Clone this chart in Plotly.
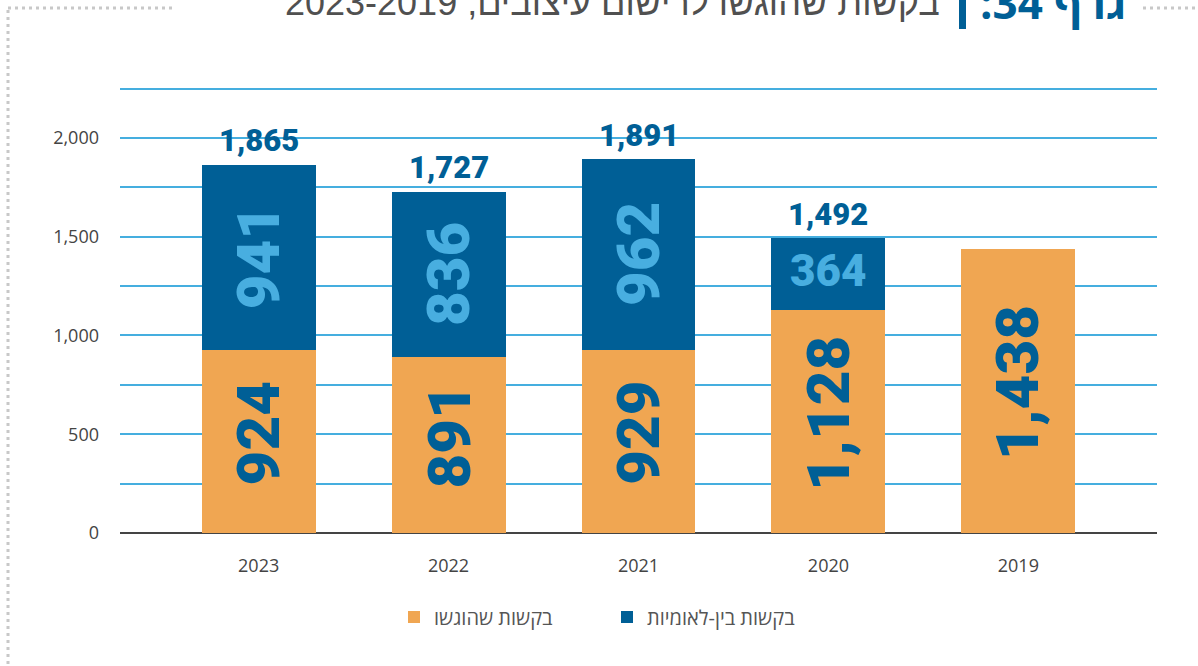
import plotly.graph_objects as go

# Design applications filed, by year
years = ["2023", "2022", "2021", "2020", "2019"]
filed = [924, 891, 929, 1128, 1438]            # בקשות שהוגשו
international = [941, 836, 962, 364, None]     # בקשות בין-לאומיות
totals = [1865, 1727, 1891, 1492, None]

y_ticks = [0, 500, 1000, 1500, 2000]
y_tick_text = ["0", "500", "1,000", "1,500", "2,000"]

ORANGE = "#F0A652"
BLUE = "#005F96"
LIGHT_BLUE = "#48AEE0"
GRID = "#45AEDF"
TEXT_GRAY = "#444444"
NUM_FONT = "Roboto"

# plot-area geometry in pixels (used to place frame/title in paper units)
W, H = 1198, 666
M_L, M_R, M_T, M_B = 120, 41, 87, 133
PW, PH = W - M_L - M_R, H - M_T - M_B


def px_x(p):
    return (p - M_L) / PW


def px_y(p):
    return (H - M_B - p) / PH


fig = go.Figure()
fig.add_trace(go.Bar(
    x=years, y=filed, name="בקשות שהוגשו",
    marker=dict(color=ORANGE, line=dict(width=0)), width=0.6,
    hoverinfo="skip",
))
fig.add_trace(go.Bar(
    x=years, y=international, name="בקשות בין-לאומיות",
    marker=dict(color=BLUE, line=dict(width=0)), width=0.6,
    hoverinfo="skip",
))

annotations = []
for idx, (f, i, t) in enumerate(zip(filed, international, totals)):
    # value inside the orange segment
    annotations.append(dict(
        x=idx, y=f / 2, xref="x", yref="y", text=f"{f:,}", showarrow=False,
        textangle=-90, yshift=8,
        font=dict(family=NUM_FONT, size=60, color=BLUE, weight=900),
    ))
    if i:
        annotations.append(dict(
            x=idx, y=f + i / 2, xref="x", yref="y", text=f"{i:,}", showarrow=False,
            textangle=-90 if i > 500 else 0, yshift=0 if i > 500 else 3,
            font=dict(family=NUM_FONT, size=60 if i > 500 else 44,
                      color=LIGHT_BLUE, weight=900),
        ))
    if t:
        annotations.append(dict(
            x=idx, y=t, xref="x", yref="y", text=f"{t:,}", showarrow=False,
            yshift=24, yanchor="middle",
            font=dict(family=NUM_FONT, size=31, color=BLUE, weight=900),
        ))

# title (runs off the top edge of the page)
annotations.append(dict(
    x=px_x(1128), y=px_y(2), xref="paper", yref="paper", xanchor="right",
    yanchor="middle", showarrow=False, text="\u202Bגרף 34:\u202C",
    font=dict(family="Open Sans", size=44, color=BLUE, weight=700),
))
annotations.append(dict(
    x=px_x(942), y=px_y(3), xref="paper", yref="paper", xanchor="right",
    yanchor="middle", showarrow=False,
    text="\u202Bבקשות שהוגשו לרישום עיצובים, 2023-2019\u202C",
    font=dict(family="Liberation Sans", size=36, color="#505050"),
))

DOTS = dict(color="#c8c8c8", width=3, dash="3px,4px")
shapes = [
    # dotted frame
    dict(type="line", xref="paper", yref="paper", x0=px_x(8), x1=px_x(8),
         y0=px_y(10), y1=px_y(666), line=DOTS),
    dict(type="line", xref="paper", yref="paper", x0=px_x(8), x1=px_x(175),
         y0=px_y(8), y1=px_y(8), line=DOTS),
    dict(type="line", xref="paper", yref="paper", x0=px_x(1143), x1=px_x(1198),
         y0=px_y(8), y1=px_y(8), line=DOTS),
    # title separator bar
    dict(type="rect", xref="paper", yref="paper", x0=px_x(959), x1=px_x(966),
         y0=px_y(-5), y1=px_y(29), fillcolor=BLUE, line=dict(width=0)),
]

fig.update_layout(
    width=W, height=H,
    margin=dict(l=M_L, r=M_R, t=M_T, b=M_B, autoexpand=False),
    paper_bgcolor="white", plot_bgcolor="white",
    barmode="stack",
    showlegend=True,
    legend=dict(
        orientation="h", x=px_x(607), xanchor="center", y=px_y(617),
        yanchor="middle", font=dict(family="Open Sans", size=20, color="#555555"),
        traceorder="normal", itemwidth=30, entrywidth=168,
    ),
    annotations=annotations,
    shapes=shapes,
    xaxis=dict(
        type="category", range=[-0.73, 4.73], showgrid=False,
        tickfont=dict(family="Open Sans", size=18, color=TEXT_GRAY, weight=500),
        ticks="", showline=False, zeroline=False, ticklabelstandoff=20,
    ),
    yaxis=dict(
        range=[0, 2258], tickvals=y_ticks, ticktext=y_tick_text,
        tickfont=dict(family="Open Sans", size=18, color=TEXT_GRAY),
        showgrid=True, gridcolor=GRID, gridwidth=2,
        minor=dict(dtick=250, tick0=0, showgrid=True, gridcolor=GRID, gridwidth=2),
        zeroline=True, zerolinecolor="#444444", zerolinewidth=2,
        ticks="", ticklabelstandoff=20, showline=False,
    ),
    font=dict(family="Open Sans"),
)

fig.write_html("out.html")
